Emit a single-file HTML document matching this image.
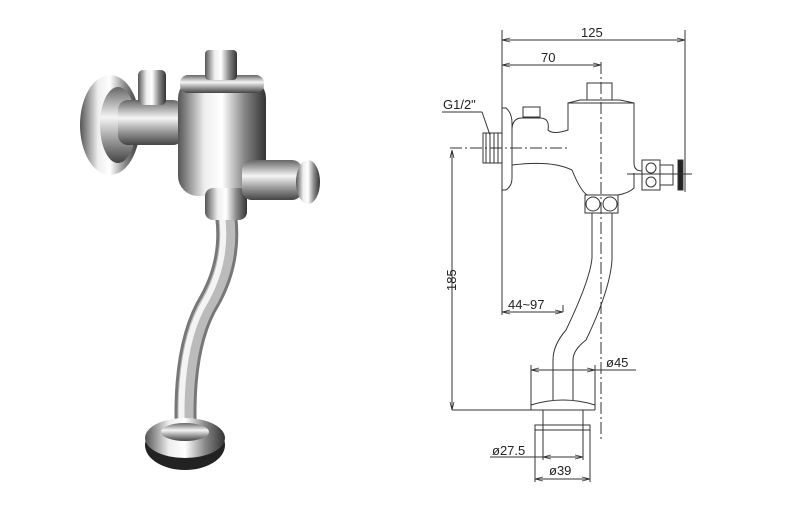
<!DOCTYPE html>
<html><head><style>
body{margin:0;background:#fff;width:785px;height:505px;overflow:hidden}
svg{display:block}
text{font-family:"Liberation Sans",sans-serif;font-size:13px;fill:#222}
</style></head><body>
<svg width="785" height="505" viewBox="0 0 785 505">
<defs>
<linearGradient id="ch" x1="0" x2="1"><stop offset="0" stop-color="#555"/><stop offset=".3" stop-color="#eee"/><stop offset=".5" stop-color="#fff"/><stop offset=".75" stop-color="#888"/><stop offset="1" stop-color="#333"/></linearGradient>
<linearGradient id="chv" x1="0" y1="0" x2="0" y2="1"><stop offset="0" stop-color="#666"/><stop offset=".4" stop-color="#f5f5f5"/><stop offset=".7" stop-color="#999"/><stop offset="1" stop-color="#444"/></linearGradient>
<marker id="a" markerWidth="8" markerHeight="6" refX="8" refY="3" orient="auto-start-reverse"><path d="M0,1 L8,3 L0,5" fill="none" stroke="#333" stroke-width=".8"/></marker>
</defs>
<!-- photo -->
<ellipse cx="110" cy="125" rx="30" ry="50" fill="url(#ch)"/>
<ellipse cx="118" cy="125" rx="18" ry="38" fill="url(#chv)"/>
<rect x="118" y="100" width="65" height="45" rx="10" fill="url(#chv)"/>
<rect x="138" y="70" width="28" height="35" rx="5" fill="url(#ch)"/>
<g fill="none" stroke-linecap="round">
<path d="M226,215 Q232,260 210,300 Q182,345 186,435" stroke="#777" stroke-width="22"/>
<path d="M226,215 Q232,260 210,300 Q182,345 186,435" stroke="#bbb" stroke-width="16"/>
<path d="M222,215 Q228,260 206,300 Q178,345 182,435" stroke="#f4f4f4" stroke-width="6"/>
</g>
<rect x="178" y="78" width="88" height="118" rx="20" fill="url(#ch)"/>
<rect x="180" y="75" width="84" height="18" rx="8" fill="url(#chv)"/>
<rect x="205" y="50" width="32" height="30" rx="4" fill="url(#ch)"/>
<rect x="205" y="188" width="42" height="32" rx="8" fill="url(#ch)"/>
<rect x="242" y="160" width="60" height="40" rx="10" fill="url(#chv)"/>
<ellipse cx="308" cy="182" rx="12" ry="22" fill="url(#ch)"/>
<ellipse cx="185" cy="445" rx="40" ry="25" fill="#222"/>
<ellipse cx="185" cy="438" rx="40" ry="20" fill="url(#ch)"/>
<ellipse cx="185" cy="432" rx="24" ry="9" fill="url(#chv)"/>
<!-- drawing -->
<g stroke="#333" stroke-width="1" fill="none">
<line x1="502" y1="30" x2="502" y2="315"/>
<line x1="685" y1="30" x2="685" y2="192"/>
<line x1="502" y1="40" x2="685" y2="40" marker-start="url(#a)" marker-end="url(#a)"/>
<line x1="502" y1="65" x2="601" y2="65" marker-start="url(#a)" marker-end="url(#a)"/>
<line x1="601" y1="62" x2="601" y2="440" stroke-dasharray="12,3,2,3"/>
<line x1="442" y1="112" x2="482" y2="112"/><line x1="482" y1="112" x2="490" y2="135"/>
<rect x="483" y="133" width="19" height="30"/>
<path d="M486,133v30M490,133v30M494,133v30M498,133v30"/>
<path d="M502,108 h4 q6,5 6,15 v55 q0,8 -6,12 h-4z"/>
<line x1="450" y1="148" x2="570" y2="148" stroke-dasharray="12,3,2,3"/>
<line x1="452" y1="150" x2="452" y2="410" marker-start="url(#a)" marker-end="url(#a)"/>
<line x1="452" y1="410" x2="531" y2="410"/>
<rect x="523" y="107" width="17" height="10"/>
<path d="M512,130 q0,-12 10,-12 h18 q10,0 8,12 q5,5 20,0 v-27 h66 v60 q0,8 8,8 M512,165 q40,-5 60,5 q8,20 15,25 M634,173 v15 q-5,5 -16,7"/>
<rect x="587" y="83" width="25" height="17"/>
<path d="M568,103 l12,-3 h40 l14,3"/>
<rect x="642" y="160" width="18" height="30"/><circle cx="651" cy="168" r="5"/><circle cx="651" cy="182" r="5"/>
<rect x="660" y="165" width="13" height="20"/>
<rect x="678" y="160" width="5" height="30" fill="#222"/>
<line x1="627" y1="174" x2="692" y2="174"/>
<rect x="585" y="195" width="33" height="18"/><circle cx="593" cy="204" r="7"/><circle cx="610" cy="204" r="7"/>
<path d="M592,213 V258 Q590,280 566,330 Q553,345 553,360 V400 M612,213 V260 Q610,290 586,340 Q573,350 573,360 V400"/>
<line x1="502" y1="312" x2="563" y2="312" marker-start="url(#a)" marker-end="url(#a)"/>
<line x1="563" y1="305" x2="563" y2="312"/>
<line x1="531" y1="370" x2="595" y2="370" marker-start="url(#a)" marker-end="url(#a)"/>
<line x1="595" y1="370" x2="636" y2="370"/>
<line x1="531" y1="365" x2="531" y2="410"/><line x1="595" y1="365" x2="595" y2="410"/>
<path d="M531,405 q32,-10 64,0 M531,410 h64"/>
<line x1="543" y1="410" x2="543" y2="460"/><line x1="583" y1="410" x2="583" y2="460"/>
<rect x="535" y="425" width="55" height="5"/>
<line x1="535" y1="430" x2="535" y2="482"/><line x1="590" y1="430" x2="590" y2="482"/>
<line x1="490" y1="457" x2="543" y2="457"/>
<line x1="543" y1="457" x2="583" y2="457" marker-start="url(#a)" marker-end="url(#a)"/>
<line x1="535" y1="479" x2="590" y2="479" marker-start="url(#a)" marker-end="url(#a)"/>
</g>
<text x="581" y="37">125</text>
<text x="541" y="62">70</text>
<text x="443" y="109">G1/2"</text>
<text x="508" y="309">44~97</text>
<text x="606" y="367">ø45</text>
<text x="492" y="455">ø27.5</text>
<text x="549" y="475">ø39</text>
<text transform="translate(456,291) rotate(-90)">185</text>
</svg>
</body></html>
